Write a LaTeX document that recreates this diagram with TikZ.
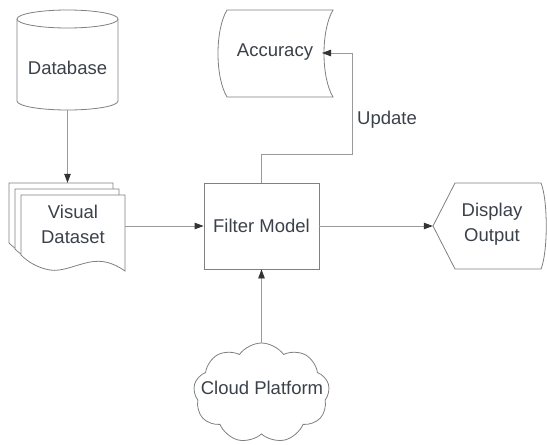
\documentclass[tikz,border=0pt]{standalone}
\usepackage{fontspec}
\setmainfont{Liberation Sans}
\usetikzlibrary{arrows.meta,shapes.symbols}
\definecolor{linegray}{HTML}{9A9A9A}
\definecolor{edgegray}{HTML}{808080}
\definecolor{textgray}{HTML}{3B414A}
\definecolor{tipgray}{HTML}{333333}

\begin{document}
\begin{tikzpicture}
      [ x = 1pt, y = -1pt
      , label/.style =
        { font=\fontsize{18.5}{25}\selectfont, text=textgray, align=center }
      , holder/.style =
        { inner sep=0pt, minimum width=#1 }
      , shape line/.style =
        { draw=edgegray, line width=.8pt, fill=white }
      , flow/.style =
        { draw=linegray, line width=.8pt, -{Triangle[length=9pt,width=6.5pt,color=tipgray]} }
      ]
      \useasboundingbox (0,0) rectangle (547,445);
      % database cylinder
      \node [holder=101, minimum height=100] (dbbox) at (67.5,60) {};
      \draw [shape line] (17,19) -- (17,101)
        arc [start angle=180, end angle=0, x radius=50.5, y radius=9] -- (118,19);
      \draw [shape line] (67.5,19) ellipse [x radius=50.5, y radius=9];
      \node [label] (db) at (67.5,68) {Database};
      % stacked pages
      \node [holder=115, minimum height=86] (vdbox) at (67.5,226) {};
      \foreach \d in {12,6,0}
        \draw [shape line] (21-\d,195-\d) -- (125-\d,195-\d) -- (125-\d,271-\d)
          .. controls (112-\d,262-\d) and (102-\d,260-\d) .. (90-\d,262-\d)
          .. controls (75-\d,265-\d) and (62-\d,272-\d) .. (50-\d,270-\d)
          .. controls (38-\d,268-\d) and (28-\d,262-\d) .. (21-\d,255-\d) -- cycle;
      \node [label] (vd) at (73,224.5) {Visual\\Dataset};
      % filter box
      \node [label, shape line, minimum width=115, minimum height=86] (fm) at (261.5,226) {Filter Model};
      % display
      \node [holder=114, minimum height=86] (dobox) at (490,226) {};
      \draw [shape line] (433,226) -- (455,183) -- (541,183)
        .. controls (548,200) and (548,252) .. (541,269) -- (455,269) -- cycle;
      \node [label] (do) at (492,224) {Display\\Output};
      % stored data
      \draw [shape line] (227,10) -- (333,10) .. controls (321,30) and (321,77) .. (333,97)
        -- (227,97) .. controls (215,77) and (215,30) .. cycle;
      \node [label] (acc) at (275,52) {Accuracy};
      \coordinate (accin) at (322,53);
      % cloud
      \node [cloud, cloud puffs=9, cloud puff arc=110, aspect=1.35, shape line, minimum width=136, minimum height=100] (cloud) at (261.5,393) {};
      \node [label] (cp) at (262,388) {Cloud Platform};
      % connectors
      \draw [flow] (dbbox.south) -- (vdbox.north);
      \draw [flow] (vdbox.east) -- (fm.west);
      \draw [flow] (fm.east) -- (dobox.west);
      \draw [flow] (cloud.north) -- (fm.south);
      \draw [flow] (fm.north) |- (352,154) |- (accin);
      \node [label] (upd) at (387,120) {Update};
    \end{tikzpicture}
\end{document}
